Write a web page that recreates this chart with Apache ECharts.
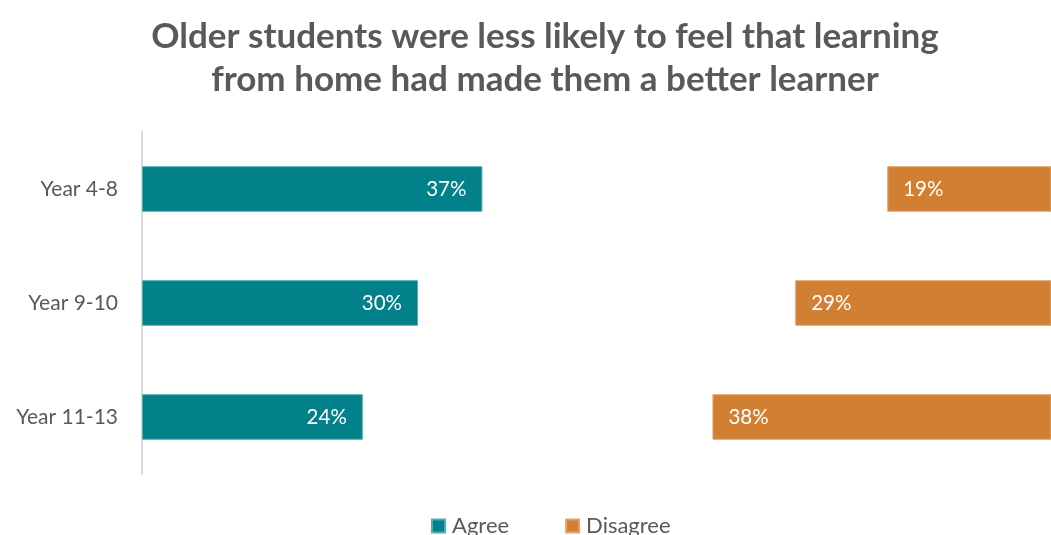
<!DOCTYPE html>
<html>
<head>
<meta charset="utf-8">
<script src="https://cdn.jsdelivr.net/npm/echarts@6/dist/echarts.min.js"></script>
<style>
  html, body { margin: 0; padding: 0; background: #ffffff; }
  #chart { width: 1051px; height: 535px; }
</style>
</head>
<body>
<div id="chart"></div>
<script>
// Survey responses by year group (percent of students)
const categories = ['Year 4-8', 'Year 9-10', 'Year 11-13'];
const agree = [37, 30, 24];
const neutral = [44, 41, 38];
const disagree = [19, 29, 38];

const FONT = 'Lato';
const TEXT = '#595959';

const chart = echarts.init(document.getElementById('chart'), null, { renderer: 'canvas' });

chart.setOption({
  animation: false,
  backgroundColor: '#ffffff',
  title: {
    text: 'Older students were less likely to feel that learning\nfrom home had made them a better learner',
    left: 540,
    textAlign: 'center',
    top: 10,
    textStyle: {
      fontFamily: FONT,
      fontWeight: 'bold',
      fontSize: 35,
      lineHeight: 43,
      color: TEXT
    }
  },
  legend: {
    bottom: -7,
    left: 426,
    itemWidth: 13,
    itemHeight: 13,
    itemGap: 56,
    icon: 'rect',
    data: ['Agree', 'Disagree'],
    textStyle: { fontFamily: FONT, fontSize: 22, color: TEXT, padding: [0, 0, 0, 2] }
  },
  // the plot runs past the right edge of the canvas; bars are clipped there
  grid: { left: 142, top: 132, right: 0, height: 342, containLabel: false },
  xAxis: {
    type: 'value',
    min: 0,
    max: 98.8,
    show: false
  },
  yAxis: {
    type: 'category',
    data: categories,
    inverse: true,
    axisLine: { show: true, lineStyle: { color: '#D9D9D9', width: 2 } },
    axisTick: { show: false },
    axisLabel: { fontFamily: FONT, fontSize: 21, color: TEXT, margin: 24 },
    splitLine: { show: false }
  },
  series: [
    {
      name: 'Agree',
      type: 'bar',
      stack: 'total',
      barCategoryGap: '60%',
      data: agree,
      itemStyle: { color: '#02818A', borderColor: '#4FAEB3', borderWidth: 1 },
      label: {
        show: true,
        position: 'insideRight',
        distance: 16,
        formatter: '{c}%',
        fontFamily: FONT,
        fontSize: 20.5,
        color: '#ffffff'
      }
    },
    {
      name: 'Neutral',
      type: 'bar',
      stack: 'total',
      data: neutral,
      itemStyle: { color: 'rgba(0,0,0,0)' },
      label: { show: false },
      emphasis: { disabled: true }
    },
    {
      name: 'Disagree',
      type: 'bar',
      stack: 'total',
      clip: true,
      data: disagree,
      itemStyle: { color: '#D18033', borderColor: '#E3A56A', borderWidth: 1 },
      label: {
        show: true,
        position: 'insideLeft',
        distance: 16,
        formatter: '{c}%',
        fontFamily: FONT,
        fontSize: 20.5,
        color: '#ffffff'
      }
    }
  ],
  color: ['#02818A', 'rgba(0,0,0,0)', '#D18033']
});
</script>
</body>
</html>
